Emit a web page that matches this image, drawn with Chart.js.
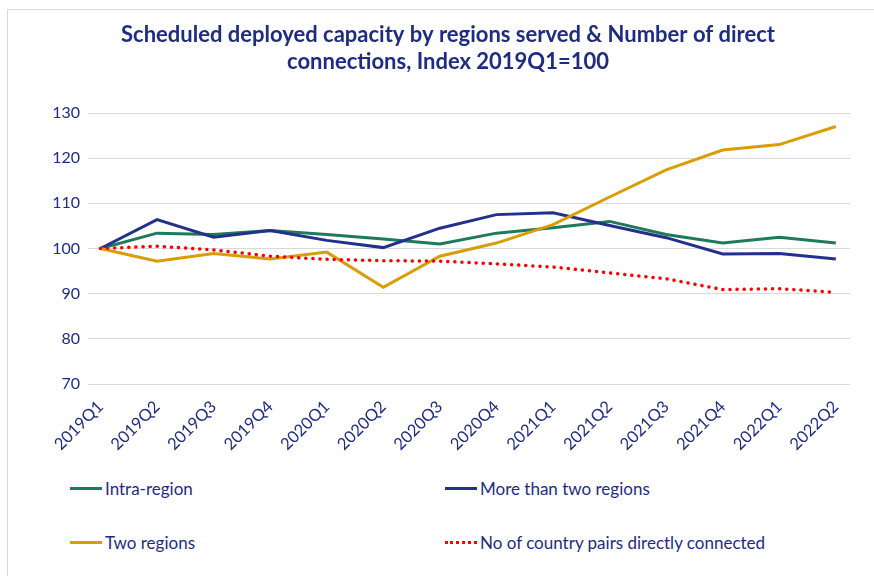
<!DOCTYPE html>
<html>
<head>
<meta charset="utf-8">
<script src="https://cdn.jsdelivr.net/npm/chart.js@4"></script>
<style>
  body { margin: 0; background: #fff; font-family: Lato, 'Open Sans', sans-serif; }
  #frame { position: absolute; left: 7px; top: 9px; width: 900px; height: 600px; border: 1px solid #d9d9d9; }
  #wrap { position: absolute; left: 0; top: 0; width: 874px; height: 454px; }
  #legend { position: absolute; left: 70px; top: 474px; width: 780px; display: grid;
            grid-template-columns: 375px 400px; row-gap: 26px; color: #1f2c83; font-size: 17px; }
  .item { display: flex; align-items: center; height: 28px; }
  .swatch { width: 32px; height: 0; margin-right: 3px; }
</style>
</head>
<body>
<div id="frame"></div>
<div id="wrap"><canvas id="chart"></canvas></div>
<div id="legend"></div>
<script>
var quarters = ['2019Q1', '2019Q2', '2019Q3', '2019Q4', '2020Q1', '2020Q2', '2020Q3',
                '2020Q4', '2021Q1', '2021Q2', '2021Q3', '2021Q4', '2022Q1', '2022Q2'];
var intraRegion = [100, 103.4, 103.1, 104.0, 103.1, 102.1, 101.0, 103.4, 104.6, 106.0, 103.1, 101.2, 102.5, 101.2];
var moreThanTwo = [100, 106.4, 102.5, 104.0, 101.8, 100.2, 104.5, 107.5, 107.9, 105.1, 102.4, 98.8, 98.9, 97.7];
var twoRegions = [100, 97.2, 98.9, 97.7, 99.2, 91.4, 98.3, 101.2, 105.3, 111.4, 117.4, 121.8, 123.0, 127.0];
var countryPairs = [100, 100.5, 99.7, 98.3, 97.6, 97.3, 97.2, 96.6, 95.9, 94.6, 93.3, 90.9, 91.1, 90.3];
var yTicks = [70, 80, 90, 100, 110, 120, 130];

var navy = '#1f2c83';

function points(values) {
    return values.map(function(v, i) { return { x: i, y: v }; });
}

var chart = new Chart(document.getElementById('chart'), {
    type: 'line',
    data: {
        datasets: [
            { label: 'Intra-region', data: points(intraRegion), borderColor: '#1f7a5c', borderWidth: 3, order: 3 },
            { label: 'More than two regions', data: points(moreThanTwo), borderColor: '#23308c', borderWidth: 3, order: 2 },
            { label: 'Two regions', data: points(twoRegions), borderColor: '#d99e06', borderWidth: 3, order: 1 },
            { label: 'No of country pairs directly connected', data: points(countryPairs), borderColor: '#ff0000',
              borderWidth: 3.5, borderDash: [0.1, 7], borderCapStyle: 'round', order: 0 }
        ]
    },
    options: {
        responsive: true,
        maintainAspectRatio: false,
        animation: false,
        elements: { point: { radius: 0 }, line: { tension: 0 } },
        layout: { padding: { left: 46, right: 24, top: 0, bottom: 0 } },
        plugins: {
            legend: { display: false },
            tooltip: { enabled: false },
            title: {
                display: true,
                text: ['Scheduled deployed capacity by regions served & Number of direct',
                       'connections, Index 2019Q1=100'],
                color: navy,
                font: { family: 'Lato', size: 22, weight: 'bold', lineHeight: 1.25 },
                padding: { top: 21, bottom: 37 }
            }
        },
        scales: {
            x: {
                type: 'linear',
                min: -0.22,
                max: 13.25,
                afterBuildTicks: function(axis) {
                    axis.ticks = quarters.map(function(q, i) { return { value: i }; });
                },
                afterFit: function(scale) { scale.height = 70; },
                grid: { display: false },
                border: { display: false },
                ticks: {
                    color: navy,
                    font: { family: 'Lato', size: 16.5 },
                    minRotation: 45,
                    maxRotation: 45,
                    padding: 5,
                    callback: function(v) { return quarters[v]; }
                }
            },
            y: {
                min: 70,
                max: 130,
                afterBuildTicks: function(axis) {
                    axis.ticks = yTicks.map(function(v) { return { value: v }; });
                },
                afterFit: function(scale) { scale.width = 42; },
                grid: { color: '#d9d9d9', drawTicks: false },
                border: { display: false },
                ticks: { color: navy, font: { family: 'Lato', size: 16 }, padding: 8 }
            }
        }
    }
});

var legendBox = document.getElementById('legend');
chart.data.datasets.forEach(function(ds) {
    var item = document.createElement('div');
    item.className = 'item';
    var sw = document.createElement('span');
    sw.className = 'swatch';
    sw.style.borderTop = ds.borderDash ? '3px dotted ' + ds.borderColor : '3px solid ' + ds.borderColor;
    var txt = document.createElement('span');
    txt.textContent = ds.label;
    item.appendChild(sw);
    item.appendChild(txt);
    legendBox.appendChild(item);
});
</script>
</body>
</html>
